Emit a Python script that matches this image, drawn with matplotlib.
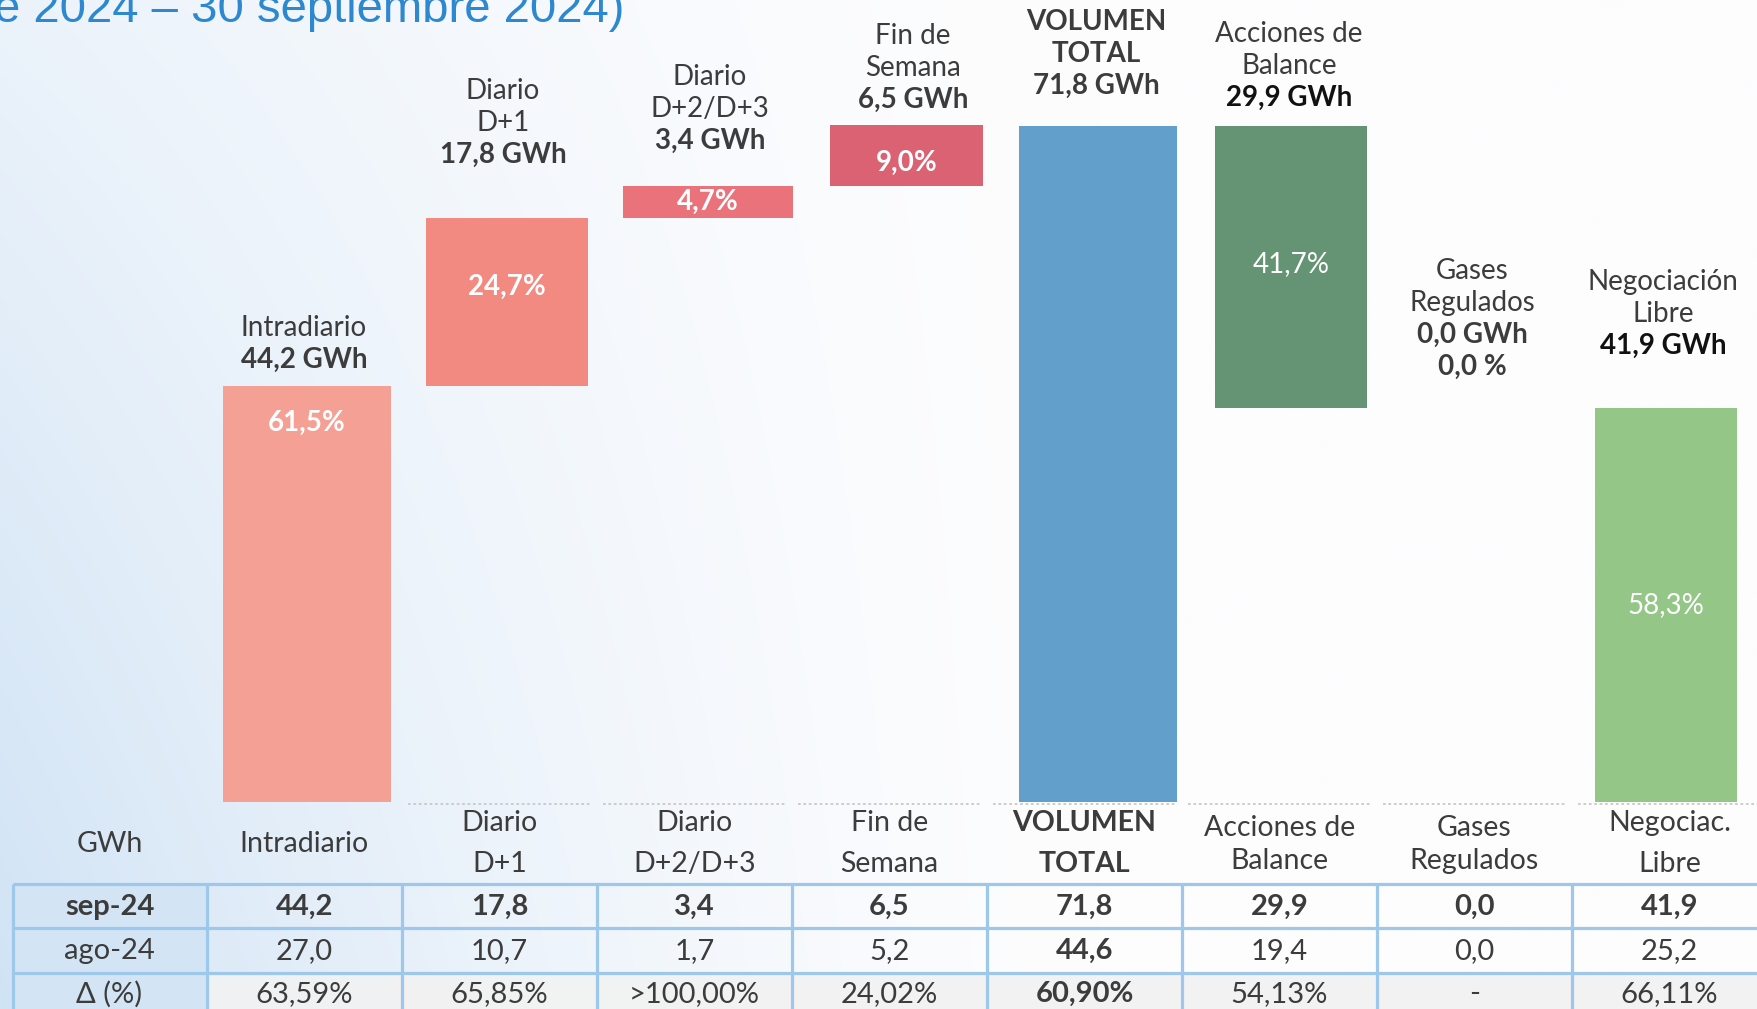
import numpy as np
import matplotlib.pyplot as plt
from matplotlib.patches import Rectangle

W, H = 1757, 1009
FONT = ['Liberation Sans Narrow', 'Lato', 'DejaVu Sans']
plt.rcParams['font.family'] = FONT

# data
categories = ["Intradiario", "Diario\nD+1", "Diario\nD+2/D+3", "Fin de\nSemana",
              "VOLUMEN\nTOTAL", "Acciones de\nBalance", "Gases\nRegulados",
              "Negociación\nLibre"]
table_headers = ["Intradiario", "Diario\nD+1", "Diario\nD+2/D+3", "Fin de\nSemana",
                 "VOLUMEN\nTOTAL", "Acciones de\nBalance", "Gases\nRegulados",
                 "Negociac.\nLibre"]
step_kind = ["up", "up", "up", "up", "total", "down", "down", "down"]
sep24 = [44.2, 17.8, 3.4, 6.5, 71.8, 29.9, 0.0, 41.9]
ago24 = [27.0, 10.7, 1.7, 5.2, 44.6, 19.4, 0.0, 25.2]
delta = ["63,59%", "65,85%", ">100,00%", "24,02%", "60,90%", "54,13%", "-", "66,11%"]
share = [61.5, 24.7, 4.7, 9.0, None, 41.7, None, 58.3]
row_labels = ["sep-24", "ago-24", "Δ (%)"]
title_tail = "e 2024 – 30 septiembre 2024)"

# style
colors = ["#F4A094", "#F28A81", "#EA737B", "#DA6273", "#62A0CB", "#659475", "#94C687", "#94C687"]
bar_shift = [0.013, 0.04, 0.07, 0.088, 0.068, 0.059, 0.0, -0.018]
bar_width = [0.86, 0.83, 0.87, 0.785, 0.81, 0.78, 0.75, 0.73]
label_x_px = [304, 503, 710, 913, 1096, 1289, 1472, 1663]
label_top_px = [328, 91, 77, 36, 22, 34, 271, 282]
pct_frac = [0.91, 0.59, 0.5, 0.38, None, 0.51, None, 0.5]
pct_bold = [True, True, True, True, False, False, False, False]
TXT = "#3C3C3C"
GRID = "#9DC8EB"
FS = 20


def fmt(v):
    return f"{v:.1f}".replace(".", ",")


col_w = 195.0
x0 = 304.5
xlim = (-x0 / col_w, (W - x0) / col_w)
base_px = 802
px_per_gwh = (base_px - 126) / 71.8


def xu(px):
    return (px - x0) / col_w


fig = plt.figure(figsize=(W / 100, H / 100), dpi=100)

# background gradient
bg = fig.add_axes([0, 0, 1, 1], zorder=0)
yy, xx = np.mgrid[0:H:4, 0:W:4]
t = np.clip(1 - xx / 1100.0, 0, 1) ** 1.5 * (0.4 + 0.6 * yy / H)
c0 = np.array([253, 253, 254]) / 255
c1 = np.array([208, 227, 245]) / 255
img = c0[None, None, :] * (1 - t[..., None]) + c1[None, None, :] * t[..., None]
bg.imshow(img, extent=(0, W, H, 0), aspect='auto', interpolation='bilinear')
bg.set_xlim(0, W)
bg.set_ylim(H, 0)
bg.axis('off')

# waterfall bars
ax = fig.add_axes([0, (H - base_px) / H, 1, base_px / H], zorder=1)
ax.patch.set_alpha(0)
level = 0.0
bottoms = []
for v, k in zip(sep24, step_kind):
    if k == "up":
        bottoms.append(level)
        level += v
    elif k == "total":
        bottoms.append(0.0)
        level = v
    else:
        level -= v
        bottoms.append(max(level, 0.0))
xpos = np.arange(len(categories)) + np.array(bar_shift)
ax.bar(xpos, sep24, bottom=bottoms, width=bar_width, color=colors, linewidth=0)
ax.set_xlim(*xlim)
ax.set_ylim(0, base_px / px_per_gwh)
ax.axis('off')

# share labels inside bars
for i, s in enumerate(share):
    if s is None:
        continue
    ax.text(xpos[i], bottoms[i] + sep24[i] * pct_frac[i], f"{fmt(s)}%", ha='center',
            va='center', fontsize=FS, color='white',
            fontweight='bold' if pct_bold[i] else 'normal')

# overlay for texts / table (x in category units, y in pixels)
ov = fig.add_axes([0, 0, 1, 1], zorder=2)
ov.patch.set_alpha(0)
ov.set_xlim(*xlim)
ov.set_ylim(H, 0)
ov.axis('off')

ov.text(xu(-6), 22, title_tail, color="#2D88CF", fontsize=34,
        family=['Liberation Sans', 'DejaVu Sans'], ha='left', va='baseline')

# dotted baseline
for i in range(1, len(categories)):
    ov.plot([i - 0.47, i + 0.47], [804, 804], color="#C9C9C9", lw=1.3,
            ls=(0, (1.5, 1.5)), solid_capstyle='butt')

# labels above bars
LS = 32
for i, name in enumerate(categories):
    lines = name.split("\n")
    bold_name = step_kind[i] == "total"
    y = label_top_px[i]
    for ln in lines:
        ov.text(xu(label_x_px[i]), y, ln, ha='center', va='center', fontsize=FS,
                color=TXT, fontweight='bold' if bold_name else 'normal')
        y += LS
    vcol = "#111111" if i in (5, 7) else TXT
    ov.text(xu(label_x_px[i]), y, f"{fmt(sep24[i])} GWh", ha='center', va='center',
            fontsize=FS, color=vcol, fontweight='bold')
    if sep24[i] == 0:
        y += LS
        ov.text(xu(label_x_px[i]), y, f"{fmt(sep24[i])} %", ha='center', va='center',
                fontsize=FS, color=TXT, fontweight='bold')

# table header
ov.text(-1.0, 844, "GWh", ha='center', va='center', fontsize=FS + 0.5, color=TXT)
for i, hd in enumerate(table_headers):
    lines = hd.split("\n")
    bold = step_kind[i] == "total"
    if len(lines) == 1:
        ys = [844]
    elif i in (5, 6):
        ys = [828, 861]
    else:
        ys = [823, 864]
    for ln, y in zip(lines, ys):
        ov.text(i, y, ln, ha='center', va='center', fontsize=FS + 0.5, color=TXT,
                fontweight='bold' if bold else 'normal')

# table body
row_top = [884, 928, 973]
row_bot = [928, 973, 1040]
left = xu(13)
right = len(categories) - 0.5 + 1.0
ov.add_patch(Rectangle((left, row_top[0]), -0.5 - left, row_bot[2] - row_top[0],
                       facecolor="#D3E5F5", edgecolor='none'))
ov.add_patch(Rectangle((-0.5, row_top[2]), right + 0.5, row_bot[2] - row_top[2],
                       facecolor="#F2F2F2", edgecolor='none', alpha=0.92))
rows = [[fmt(v) for v in sep24], [fmt(v) for v in ago24], delta]
row_yc = [907, 951, 994]
for r, vals in enumerate(rows):
    yc = row_yc[r]
    ov.text(-1.0, yc, row_labels[r], ha='center', va='center', fontsize=FS + 1,
            color=TXT, fontweight='bold' if r == 0 else 'normal')
    for i, s in enumerate(vals):
        bold = r == 0 or step_kind[i] == "total"
        ov.text(i, yc, s, ha='center', va='center', fontsize=FS + 1, color=TXT,
                fontweight='bold' if bold else 'normal')
for y in row_top:
    ov.plot([left, right], [y, y], color=GRID, lw=2.3, solid_capstyle='butt')
for xb in [left] + [i - 0.5 for i in range(len(categories) + 1)]:
    ov.plot([xb, xb], [row_top[0], H + 5], color=GRID, lw=2.3, solid_capstyle='butt')

fig.savefig("out.png", dpi=100)
